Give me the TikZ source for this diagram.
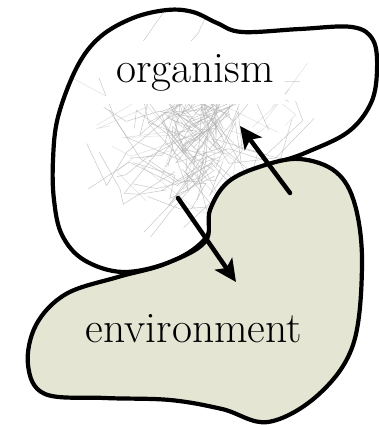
\documentclass[tikz,border=0pt]{standalone}
\usetikzlibrary{arrows.meta}
\definecolor{envfill}{RGB}{228,230,211}
\tikzset{
	blob/.style={line width=4.2pt,line join=round},
	scribble/.style={gray!60,line width=0.5pt,opacity=0.7},
	flow/.style={line width=4.5pt,-{Stealth[length=22pt,width=21pt,inset=5pt]}},
	lbl/.style={font=\fontsize{43.5}{44}\selectfont,inner sep=0pt}
}
\begin{document}
\begin{tikzpicture}[x=1pt,y=-1pt,line cap=round]
	\useasboundingbox (0,0) rectangle (378,425);
	
	% organism
	\def\orgpath{plot[smooth cycle,tension=0.6] coordinates {(54,200) (53,160) (58,117) (77,67) (100,37) (133,18) (167,10) (193,12) (217,23) (242,32) (300,29) (352,27) (373,40) (377,70) (371,103) (348,132) (305,153) (262,170) (222,205) (204,240) (170,262) (123,272) (84,260) (62,235)}}
	\fill[white] \orgpath;
	\begin{scope}
		\clip \orgpath;
		\pgfmathsetseed{11}
		\foreach \i in {1,...,70}{
			\draw[scribble] ({195+30*rand},{140+40*rand}) -- ++({55*rand},{55*rand}) -- ++({50*rand},{45*rand}) -- ++({45*rand},{55*rand});
		}
		\foreach \i in {1,...,25}{
			\draw[scribble,opacity=0.4] ({205+80*rand},{120+70*rand}) -- ++({70*rand},{50*rand}) -- ++({60*rand},{40*rand});
		}
	\end{scope}
	\draw[blob] \orgpath;
	
	% environment
	\draw[blob,fill=envfill] plot[smooth cycle,tension=0.6] coordinates {(205,242) (210,210) (228,182) (262,166) (300,159) (336,172) (355,205) (362,265) (353,345) (318,395) (268,422) (222,409) (170,400) (105,398) (45,394) (28,365) (36,325) (66,294) (118,277) (165,264)};
	
	% labels
	\node[lbl,fill=white,minimum width=179pt,minimum height=63pt] (org) at (195,73) {organism};
	\node[lbl] (env) at (194,329) {environment};
	
	% arrows
	\coordinate (upS) at (290,193);
	\coordinate (upE) at (240,126);
	\coordinate (dnS) at (178,198);
	\coordinate (dnE) at (236,282);
	\draw[flow] (upS) -- (upE);
	\draw[flow] (dnS) -- (dnE);
\end{tikzpicture}
\end{document}
